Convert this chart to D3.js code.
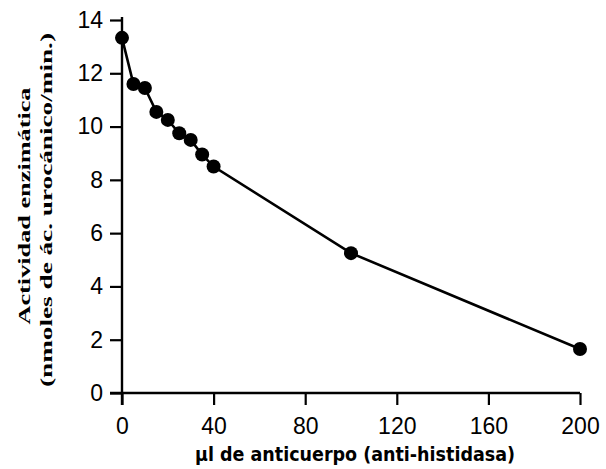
<!DOCTYPE html>
<html><head><meta charset="utf-8">
<script src="https://cdn.jsdelivr.net/npm/d3@7"></script>
<style>body{margin:0;background:#fff}svg{display:block}</style>
</head><body>
<svg id="c" width="606" height="469"></svg>
<script>
const xValues = [0, 5, 10, 15, 20, 25, 30, 35, 40, 100, 200];
const yValues = [13.33, 11.6, 11.45, 10.55, 10.25, 9.75, 9.5, 8.95, 8.5, 5.25, 1.65];
const xTicks = [0, 40, 80, 120, 160, 200];
const yTicks = [0, 2, 4, 6, 8, 10, 12, 14];
const xTitle = "µl de anticuerpo (anti-histidasa)";
const yTitle1 = "Actividad enzimática";
const yTitle2 = "(nmoles de ác. urocánico/min.)";

const svg = d3.select("#c");
const x = d3.scaleLinear().domain([0, 200]).range([122, 580]);
const y = d3.scaleLinear().domain([0, 14]).range([393, 20]);

const xAxis = svg.append("g").attr("transform", `translate(0,${y(0)})`)
  .call(d3.axisBottom(x).tickValues(xTicks).tickSize(12).tickSizeOuter(0).tickPadding(13));
const yAxis = svg.append("g").attr("transform", `translate(${x(0)},0)`)
  .call(d3.axisLeft(y).tickValues(yTicks).tickSize(12).tickSizeOuter(0).tickPadding(7));

[xAxis, yAxis].forEach(g => {
  g.select(".domain").remove();
  g.selectAll(".tick line").attr("stroke", "#000").attr("stroke-width", 2.2);
  g.selectAll(".tick text").attr("fill", "#000")
    .style("font-family", "Liberation Sans, Arial, sans-serif").style("font-size", "23px");
});
// axis lines
svg.append("line").attr("x1", x(0) - 12).attr("x2", x(200)).attr("y1", y(0)).attr("y2", y(0))
  .attr("stroke", "#000").attr("stroke-width", 2.4);
svg.append("line").attr("x1", x(0)).attr("x2", x(0)).attr("y1", y(14) - 3).attr("y2", y(0) + 12)
  .attr("stroke", "#000").attr("stroke-width", 2.4);

const pts = xValues.map((v, i) => [v, yValues[i]]);
svg.append("path").datum(pts)
  .attr("d", d3.line().x(d => x(d[0])).y(d => y(d[1])))
  .attr("fill", "none").attr("stroke", "#000").attr("stroke-width", 2.6);
svg.selectAll("circle.pt").data(pts).enter().append("circle")
  .attr("cx", d => x(d[0])).attr("cy", d => y(d[1])).attr("r", 7).attr("fill", "#000");

svg.append("text").attr("x", 355).attr("y", 461).attr("text-anchor", "middle")
  .attr("textLength", 320).attr("lengthAdjust", "spacingAndGlyphs")
  .style("font-family", "DejaVu Sans, sans-serif").style("font-weight", "bold").style("font-size", "20px")
  .text(xTitle);

svg.append("text").attr("transform", "translate(30,206) rotate(-90)").attr("text-anchor", "middle")
  .attr("textLength", 237).attr("lengthAdjust", "spacingAndGlyphs")
  .style("font-family", "Liberation Serif, serif").style("font-weight", "bold").style("font-size", "17px")
  .text(yTitle1);
svg.append("text").attr("transform", "translate(52,210) rotate(-90)").attr("text-anchor", "middle")
  .attr("textLength", 354).attr("lengthAdjust", "spacingAndGlyphs")
  .style("font-family", "Liberation Serif, serif").style("font-weight", "bold").style("font-size", "17px")
  .text(yTitle2);
</script>
</body></html>
